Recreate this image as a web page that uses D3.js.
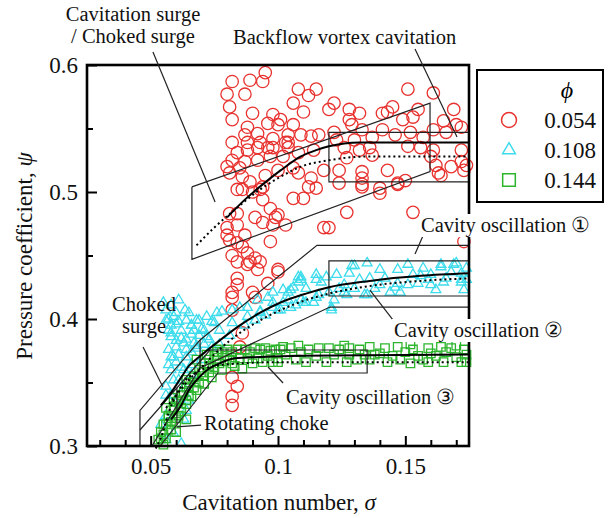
<!DOCTYPE html>
<html>
<head>
<meta charset="utf-8">
<title>Pressure coefficient vs cavitation number</title>
<script src="https://d3js.org/d3.v7.min.js"></script>
<style>
  body { margin: 0; background: #fff; }
  svg { display: block; font-family: "Liberation Serif", "Times New Roman", serif; }
</style>
</head>
<body>
<div id="chart"></div>
<script>
// measured points [sigma, psi] for each flow coefficient
const phi054 = [
  [0.095,0.594],[0.082,0.587],[0.089,0.588],[0.094,0.587],[0.080,0.577],[0.087,0.577],[0.081,0.567],[0.090,0.562],
  [0.082,0.557],[0.098,0.561],[0.101,0.557],[0.106,0.553],[0.088,0.551],[0.092,0.546],[0.098,0.542],[0.082,0.539],
  [0.088,0.539],[0.104,0.539],[0.087,0.545],[0.104,0.545],[0.109,0.545],[0.113,0.544],[0.116,0.545],[0.093,0.539],
  [0.103,0.539],[0.096,0.554],[0.100,0.553],[0.108,0.581],[0.112,0.576],[0.115,0.581],[0.106,0.570],[0.110,0.563],
  [0.088,0.533],[0.092,0.535],[0.098,0.535],[0.104,0.535],[0.084,0.531],[0.082,0.525],[0.087,0.524],[0.080,0.520],
  [0.085,0.519],[0.092,0.525],[0.097,0.528],[0.102,0.528],[0.114,0.533],[0.081,0.515],[0.086,0.512],[0.095,0.513],
  [0.100,0.517],[0.106,0.519],[0.118,0.517],[0.089,0.508],[0.108,0.515],[0.113,0.511],[0.112,0.504],[0.094,0.504],
  [0.084,0.502],[0.090,0.500],[0.108,0.531],[0.096,0.535],
  [0.151,0.581],[0.161,0.578],[0.122,0.570],[0.128,0.565],[0.132,0.562],[0.141,0.562],[0.145,0.567],[0.143,0.563],
  [0.155,0.565],[0.149,0.557],[0.153,0.559],[0.169,0.565],[0.165,0.556],[0.170,0.553],[0.128,0.557],[0.129,0.553],
  [0.133,0.549],[0.122,0.547],[0.123,0.541],[0.130,0.541],[0.137,0.543],[0.141,0.549],[0.146,0.545],[0.152,0.547],
  [0.157,0.543],[0.161,0.549],[0.166,0.547],[0.126,0.535],[0.132,0.533],[0.136,0.535],[0.151,0.536],[0.156,0.535],
  [0.161,0.533],[0.172,0.533],[0.127,0.527],[0.137,0.529],[0.160,0.528],[0.172,0.524],[0.124,0.517],[0.133,0.516],
  [0.143,0.517],[0.162,0.521],[0.168,0.520],[0.174,0.521],[0.124,0.507],[0.133,0.511],[0.164,0.513],[0.173,0.517],
  [0.147,0.507],[0.150,0.509],[0.140,0.503],[0.133,0.504],[0.120,0.565],[0.163,0.515],[0.172,0.551],
  [0.086,0.502],[0.094,0.494],[0.106,0.495],[0.110,0.495],[0.115,0.503],[0.097,0.487],[0.100,0.482],[0.091,0.480],
  [0.094,0.476],[0.098,0.474],[0.103,0.474],[0.084,0.483],[0.084,0.474],[0.080,0.472],[0.080,0.466],[0.087,0.466],
  [0.084,0.460],[0.097,0.461],[0.118,0.472],[0.082,0.450],[0.088,0.452],[0.091,0.448],[0.093,0.445],[0.089,0.445],
  [0.084,0.445],[0.092,0.439],[0.100,0.439],[0.084,0.432],[0.084,0.427],[0.082,0.421],[0.082,0.417],[0.090,0.421],
  [0.091,0.417],[0.096,0.428],[0.081,0.483],[0.099,0.480],[0.081,0.462],[0.086,0.457],[0.088,0.443],[0.127,0.484],
  [0.140,0.499],[0.147,0.506],[0.153,0.484],[0.133,0.506],[0.173,0.461],[0.120,0.472],[0.093,0.502],[0.100,0.437],
  [0.082,0.354],[0.084,0.347],[0.082,0.339],[0.082,0.332],[0.085,0.378],[0.086,0.389],[0.082,0.407]
];
const phi108 = [
  [0.055,0.413],[0.056,0.407],[0.059,0.402],[0.064,0.399],[0.068,0.399],[0.058,0.395],[0.062,0.391],[0.060,0.405],
  [0.065,0.405],[0.069,0.399],[0.058,0.386],[0.063,0.381],[0.067,0.381],[0.060,0.378],[0.064,0.384],[0.058,0.370],
  [0.059,0.370],[0.064,0.370],[0.058,0.360],[0.063,0.360],[0.062,0.362],[0.059,0.352],[0.056,0.347],[0.058,0.340],
  [0.060,0.334],[0.064,0.328],[0.063,0.321],[0.059,0.310],[0.056,0.305],[0.065,0.336],[0.056,0.324],[0.054,0.317],
  [0.057,0.376],[0.060,0.396],[0.067,0.391],[0.069,0.387],[0.071,0.380],[0.056,0.340],[0.057,0.400],[0.061,0.398],
  [0.066,0.395],[0.058,0.389],[0.062,0.385],[0.066,0.388],[0.060,0.366],[0.066,0.374],[0.068,0.377],[0.070,0.392],
  [0.061,0.352],[0.063,0.346],[0.066,0.356],[0.070,0.368],[0.074,0.378],[0.062,0.302],
  [0.056,0.399],[0.058,0.411],[0.061,0.415],[0.057,0.391],[0.0635,0.407],[0.066,0.395],[0.060,0.383],[0.064,0.376],
  [0.068,0.379],[0.071,0.391],[0.074,0.398],[0.061,0.372],[0.057,0.364],[0.066,0.364],
  [0.072,0.402],[0.076,0.405],[0.078,0.406],[0.082,0.407],[0.085,0.409],[0.088,0.409],[0.092,0.415],[0.093,0.405],
  [0.096,0.417],[0.098,0.421],[0.098,0.413],[0.102,0.423],[0.104,0.421],[0.104,0.415],[0.106,0.425],[0.108,0.433],
  [0.108,0.429],[0.109,0.433],[0.109,0.415],[0.109,0.431],[0.111,0.413],[0.111,0.424],[0.115,0.435],[0.115,0.431],
  [0.115,0.417],[0.116,0.419],[0.117,0.429],[0.119,0.433],[0.121,0.409],[0.105,0.423],[0.102,0.413],[0.072,0.386],
  [0.077,0.391],[0.082,0.397],[0.088,0.402],[0.093,0.406],[0.098,0.409],[0.073,0.384],[0.077,0.380],[0.081,0.387],
  [0.087,0.395],[0.091,0.399],[0.095,0.403],[0.101,0.407],[0.107,0.411],[0.075,0.397],[0.121,0.407],[0.114,0.413],
  [0.100,0.407],[0.105,0.409],[0.110,0.413],
  [0.120,0.421],[0.123,0.435],[0.126,0.421],[0.127,0.419],[0.128,0.436],[0.129,0.442],[0.130,0.442],[0.134,0.419],
  [0.135,0.444],[0.135,0.419],[0.140,0.439],[0.140,0.427],[0.146,0.425],[0.147,0.439],[0.147,0.428],[0.151,0.443],
  [0.151,0.427],[0.153,0.435],[0.155,0.428],[0.157,0.440],[0.159,0.431],[0.160,0.435],[0.160,0.427],[0.164,0.443],
  [0.164,0.441],[0.165,0.429],[0.166,0.432],[0.169,0.443],[0.170,0.444],[0.172,0.431],[0.172,0.429],[0.172,0.436],
  [0.174,0.440],[0.174,0.431],[0.122,0.415],[0.132,0.431],[0.136,0.432],[0.142,0.432],[0.156,0.434],[0.168,0.437],
  [0.126,0.427],[0.144,0.421],[0.148,0.421],[0.162,0.423],[0.173,0.423],[0.124,0.424],[0.130,0.424],[0.138,0.424]
];
const phi144 = [
  [0.054,0.311],[0.055,0.317],[0.056,0.306],[0.057,0.322],[0.058,0.313],[0.058,0.328],[0.060,0.319],[0.060,0.335],
  [0.061,0.324],[0.062,0.340],[0.062,0.330],[0.064,0.346],[0.064,0.336],[0.065,0.350],[0.065,0.340],[0.067,0.355],
  [0.067,0.346],[0.069,0.360],[0.069,0.350],[0.071,0.365],[0.071,0.355],[0.073,0.368],[0.073,0.358],[0.075,0.371],
  [0.075,0.362],[0.076,0.374],[0.077,0.365],[0.078,0.374],[0.079,0.367],[0.080,0.376],[0.081,0.368],[0.082,0.374],
  [0.083,0.363],[0.084,0.376],[0.085,0.369],[0.086,0.361],[0.087,0.376],[0.088,0.369],[0.089,0.374],[0.090,0.365],
  [0.091,0.377],[0.092,0.369],[0.093,0.376],[0.094,0.366],[0.095,0.377],[0.096,0.371],[0.097,0.375],[0.098,0.366],
  [0.099,0.376],[0.100,0.369],[0.053,0.305],[0.055,0.301],[0.056,0.330],[0.059,0.338],[0.064,0.352],[0.068,0.368],
  [0.072,0.372],[0.076,0.376],[0.064,0.321],[0.060,0.311],
  [0.056,0.317],[0.057,0.324],[0.058,0.319],[0.059,0.330],[0.060,0.322],[0.061,0.336],[0.062,0.327],[0.063,0.342],
  [0.064,0.333],[0.065,0.347],[0.066,0.339],[0.067,0.354],[0.068,0.344],[0.070,0.358],[0.071,0.349],[0.073,0.363],
  [0.074,0.354],[0.076,0.367],[0.078,0.360],[0.080,0.371],[0.082,0.365],[0.054,0.306],[0.055,0.309],
  [0.101,0.376],[0.100,0.366],[0.103,0.372],[0.105,0.377],[0.107,0.368],[0.109,0.374],[0.111,0.366],[0.112,0.376],
  [0.115,0.371],[0.116,0.377],[0.119,0.366],[0.120,0.377],[0.122,0.372],[0.124,0.376],[0.127,0.366],[0.128,0.377],
  [0.128,0.372],[0.131,0.368],[0.132,0.376],[0.134,0.372],[0.136,0.378],[0.136,0.368],[0.138,0.372],[0.140,0.373],
  [0.142,0.377],[0.143,0.366],[0.145,0.371],[0.147,0.378],[0.148,0.368],[0.150,0.374],[0.152,0.365],[0.153,0.376],
  [0.155,0.371],[0.157,0.368],[0.159,0.377],[0.159,0.366],[0.160,0.373],[0.162,0.371],[0.164,0.378],[0.165,0.366],
  [0.166,0.374],[0.168,0.377],[0.170,0.370],[0.172,0.366],[0.173,0.376],[0.174,0.372],[0.174,0.366],[0.102,0.378],
  [0.108,0.379],[0.126,0.379],[0.152,0.380],[0.170,0.379]
];

// fitted trend lines
const fit054 = [[0.080,0.480],[0.087,0.494],[0.094,0.506],[0.101,0.517],[0.109,0.528],[0.115,0.533],[0.120,0.536],[0.132,0.539],[0.148,0.539],[0.175,0.539]];
const fit054b = [[0.068,0.458],[0.075,0.472],[0.083,0.486],[0.093,0.502],[0.101,0.512],[0.109,0.520],[0.120,0.525],[0.136,0.528],[0.175,0.528]];
const fit108 = [[0.054,0.332],[0.058,0.342],[0.062,0.354],[0.065,0.363],[0.069,0.370],[0.077,0.383],[0.085,0.395],[0.093,0.405],[0.101,0.413],[0.111,0.420],[0.120,0.425],[0.136,0.430],[0.156,0.434],[0.175,0.436]];
const fit108b = [[0.056,0.330],[0.060,0.340],[0.065,0.352],[0.070,0.362],[0.077,0.376],[0.085,0.389],[0.093,0.399],[0.101,0.407],[0.111,0.415],[0.120,0.420],[0.136,0.426],[0.156,0.430],[0.175,0.432]];
const fit144 = [[0.058,0.321],[0.062,0.332],[0.065,0.344],[0.069,0.354],[0.073,0.361],[0.077,0.365],[0.083,0.369],[0.093,0.370],[0.109,0.371],[0.175,0.372]];
const fit144b = [[0.052,0.298],[0.055,0.312],[0.057,0.326],[0.060,0.340],[0.063,0.350],[0.068,0.358],[0.075,0.363],[0.085,0.365],[0.100,0.366],[0.175,0.366]];

// region outlines
const regions = [
  [[0.0662,0.504],[0.1597,0.570],[0.1597,0.516],[0.0662,0.447],[0.0662,0.504]],
  [[0.175,0.547],[0.120,0.547],[0.120,0.508],[0.175,0.508]],
  [[0.0458,0.300],[0.0458,0.328],[0.0694,0.3835],[0.1153,0.458],[0.175,0.458]],
  [[0.0505,0.300],[0.0694,0.3614],[0.1204,0.4094],[0.175,0.4094]],
  [[0.0694,0.3835],[0.0694,0.3614]],
  [[0.175,0.4457],[0.120,0.4457],[0.120,0.4181],[0.175,0.4181]],
  [[0.0458,0.3126],[0.0733,0.3756],[0.135,0.3756],[0.135,0.3575],[0.0764,0.3575],[0.0537,0.300]],
  [[0.0603,0.3459],[0.0603,0.3169]]
];

const legendLabels = ["0.054", "0.108", "0.144"];
const xMajor = [0.05, 0.1, 0.15];
const xMinor = [0.03, 0.04, 0.06, 0.07, 0.08, 0.09, 0.11, 0.12, 0.13, 0.14, 0.16, 0.17];
const yMajor = [0.3, 0.4, 0.5, 0.6];
const yMinor = [0.35, 0.45, 0.55];

const width = 609, height = 518;
const margin = {top: 65, right: 140, bottom: 72, left: 87};

const svg = d3.select("#chart").append("svg")
    .attr("width", width)
    .attr("height", height);

const x = d3.scaleLinear().domain([0.025, 0.175]).range([margin.left, width - margin.right]);
const y = d3.scaleLinear().domain([0.3, 0.6]).range([height - margin.bottom, margin.top]);

const red = "#e8322f", cyan = "#3cdcec", green = "#2db52d";
const tri = d3.symbol().type(d3.symbolTriangle);
const sq = d3.symbol().type(d3.symbolSquare);

// markers
svg.append("g").selectAll("circle")
    .data(phi054).enter().append("circle")
    .attr("cx", d => x(d[0])).attr("cy", d => y(d[1])).attr("r", 6.2)
    .attr("fill", "none").attr("stroke", red).attr("stroke-width", 1.3);

svg.append("g").selectAll("path")
    .data(phi108).enter().append("path")
    .attr("transform", d => "translate(" + x(d[0]) + "," + y(d[1]) + ")")
    .attr("d", tri.size(42)())
    .attr("fill", "none").attr("stroke", cyan).attr("stroke-width", 1.3);

svg.append("g").selectAll("path")
    .data(phi144).enter().append("path")
    .attr("transform", d => "translate(" + x(d[0]) + "," + y(d[1]) + ")")
    .attr("d", sq.size(72)())
    .attr("fill", "none").attr("stroke", green).attr("stroke-width", 1.3);

const line = d3.line().x(d => x(d[0])).y(d => y(d[1]));
const smooth = d3.line().x(d => x(d[0])).y(d => y(d[1])).curve(d3.curveMonotoneX);

svg.append("g").selectAll("path")
    .data(regions).enter().append("path")
    .attr("d", line)
    .attr("fill", "none").attr("stroke", "#222").attr("stroke-width", 1.2);

[fit054, fit108, fit144].forEach(c => {
    svg.append("path").attr("d", smooth(c))
        .attr("fill", "none").attr("stroke", "#000").attr("stroke-width", 2);
});
[fit054b, fit108b, fit144b].forEach(c => {
    svg.append("path").attr("d", smooth(c))
        .attr("fill", "none").attr("stroke", "#000").attr("stroke-width", 2)
        .attr("stroke-dasharray", "2,3");
});

// frame and ticks
svg.append("rect")
    .attr("x", x(0.025)).attr("y", y(0.6))
    .attr("width", x(0.175) - x(0.025)).attr("height", y(0.3) - y(0.6))
    .attr("fill", "none").attr("stroke", "#000").attr("stroke-width", 2.6);

const fmt = d => String(+d.toFixed(2));
const gx = svg.append("g").attr("transform", "translate(0," + y(0.3) + ")");
gx.call(d3.axisBottom(x).tickValues(xMajor).tickSize(-10).tickPadding(12).tickFormat(fmt));
gx.append("g").call(d3.axisBottom(x).tickValues(xMinor).tickSize(-6).tickFormat(""));
const gy = svg.append("g").attr("transform", "translate(" + x(0.025) + ",0)");
gy.call(d3.axisLeft(y).tickValues(yMajor).tickSize(-10).tickPadding(9).tickFormat(fmt));
gy.append("g").call(d3.axisLeft(y).tickValues(yMinor).tickSize(-6).tickFormat(""));
svg.selectAll(".domain").remove();
svg.selectAll(".tick line").attr("stroke", "#000").attr("stroke-width", 2);
svg.selectAll(".tick text").attr("font-family", "Liberation Serif, serif").attr("font-size", 23).attr("fill", "#111");
gx.selectAll(".tick text").attr("dy", "0.71em");

// axis titles
const xt = svg.append("text").attr("x", 279).attr("y", 510).attr("text-anchor", "middle")
    .attr("font-size", 23).attr("fill", "#111");
xt.append("tspan").text("Cavitation number, ");
xt.append("tspan").attr("font-style", "italic").text("σ");
const yt = svg.append("text").attr("transform", "translate(32,256) rotate(-90)").attr("text-anchor", "middle")
    .attr("font-size", 23).attr("fill", "#111");
yt.append("tspan").text("Pressure coefficient, ");
yt.append("tspan").attr("font-style", "italic").text("ψ");

// annotations: text lines, placement and leader line (data coords)
const notes = [
  {t: ["Cavitation surge", "/ Choked surge"], x: 133, y: 21, a: "middle", from: [0.0509, 0.6102], to: [0.0753, 0.4921]},
  {t: ["Backflow vortex cavitation"], x: 233, y: 44, a: "start", from: [0.1538, 0.6126], to: [0.1703, 0.5433]},
  {t: ["Cavity oscillation ①"], x: 421, y: 232, a: "start", from: [0.1569, 0.4654], to: [0.1538, 0.4512], bg: true},
  {t: ["Cavity oscillation ②"], x: 394, y: 337, a: "start", from: [0.1452, 0.3992], to: [0.1361, 0.4228], bg: true},
  {t: ["Cavity oscillation ③"], x: 286, y: 404, a: "start", from: [0.102, 0.3496], to: [0.0961, 0.3622]},
  {t: ["Choked", "surge"], x: 144, y: 311, a: "middle", from: [0.047, 0.378], to: [0.0548, 0.3465]},
  {t: ["Rotating choke"], x: 204, y: 430, a: "start", from: [0.0698, 0.3165], to: [0.0603, 0.315]}
];
notes.forEach(n => {
    svg.append("line")
        .attr("x1", x(n.from[0])).attr("y1", y(n.from[1]))
        .attr("x2", x(n.to[0])).attr("y2", y(n.to[1]))
        .attr("stroke", "#222").attr("stroke-width", 1.2);
    const g = svg.append("g");
    n.t.forEach((s, i) => {
        const txt = g.append("text").attr("text-anchor", n.a).attr("font-size", 20.5).attr("fill", "#111")
            .attr("x", n.x).attr("y", n.y + i * 22).text(s);
        if (n.bg) {
            const b = txt.node().getBBox();
            g.insert("rect", "text").attr("x", b.x - 2).attr("y", b.y).attr("width", b.width + 4)
                .attr("height", b.height).attr("fill", "#fff");
        }
    });
});

// legend
const lg = svg.append("g");
lg.append("rect").attr("x", 477).attr("y", 70).attr("width", 126).attr("height", 132)
    .attr("fill", "#fff").attr("stroke", "#000").attr("stroke-width", 2);
lg.append("text").attr("x", 567).attr("y", 98).attr("text-anchor", "middle")
    .attr("font-size", 24).attr("font-style", "italic").text("ϕ");
legendLabels.forEach((lab, i) => {
    const cy = 120 + i * 30;
    if (i === 0) {
        lg.append("circle").attr("cx", 509).attr("cy", cy).attr("r", 7.5)
            .attr("fill", "none").attr("stroke", red).attr("stroke-width", 1.5);
    } else if (i === 1) {
        lg.append("path").attr("transform", "translate(509," + cy + ")").attr("d", tri.size(70)())
            .attr("fill", "none").attr("stroke", cyan).attr("stroke-width", 1.5);
    } else {
        lg.append("path").attr("transform", "translate(509," + cy + ")").attr("d", sq.size(160)())
            .attr("fill", "none").attr("stroke", green).attr("stroke-width", 1.5);
    }
    lg.append("text").attr("x", 596).attr("y", cy + 8).attr("text-anchor", "end")
        .attr("font-size", 23).attr("fill", "#111").text(lab);
});
</script>
</body>
</html>
